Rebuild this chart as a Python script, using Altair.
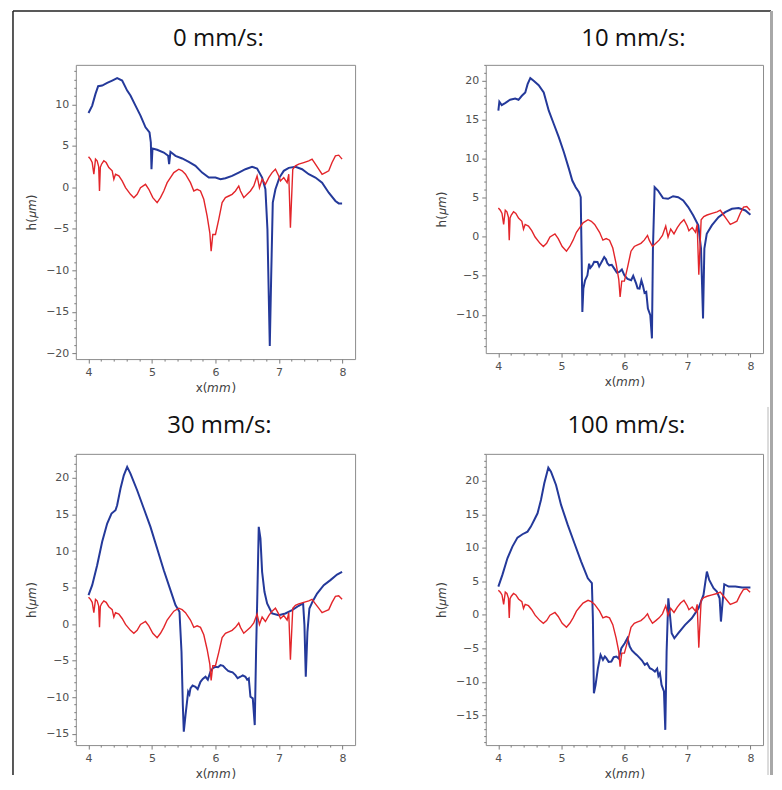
import altair as alt
import pandas as pd

# ---------------- data ----------------
TITLES = ["0 mm/s:", "10 mm/s:", "30 mm/s:", "100 mm/s:"]

X_RED = [4.000, 4.031, 4.058, 4.084, 4.110, 4.136, 4.160, 4.173, 4.186, 4.205,
         4.241, 4.278, 4.320, 4.373, 4.399, 4.425, 4.478, 4.530, 4.583, 4.661,
         4.714, 4.766, 4.819, 4.898, 4.950, 5.013, 5.081, 5.134, 5.186, 5.239,
         5.291, 5.344, 5.423, 5.475, 5.528, 5.606, 5.659, 5.711, 5.764, 5.816,
         5.869, 5.911, 5.932, 5.958, 6.000, 6.052, 6.105, 6.157, 6.210, 6.262,
         6.315, 6.367, 6.394, 6.446, 6.499, 6.551, 6.604, 6.656, 6.693, 6.735,
         6.787, 6.840, 6.892, 6.945, 6.997, 7.024, 7.076, 7.129, 7.155, 7.181,
         7.218, 7.260, 7.312, 7.391, 7.470, 7.522, 7.575, 7.627, 7.680, 7.732,
         7.785, 7.837, 7.890, 7.942, 7.995]
H_RED = [3.67, 3.39, 2.98, 1.57, 3.39, 3.19, 2.50, -0.44, 2.40, 2.78,
         3.19, 2.98, 2.38, 1.98, 0.97, 1.57, 1.37, 0.77, -0.04, -0.85,
         -1.25, -0.85, -0.04, 0.36, -0.24, -1.25, -1.85, -1.25, -0.44, 0.56,
         1.17, 1.77, 2.18, 1.98, 1.57, 0.56, -0.44, -0.24, -0.44, -1.45,
         -3.47, -5.48, -7.70, -5.69, -5.69, -3.87, -1.85, -1.25, -1.05, -0.85,
         -0.44, 0.16, -0.44, -1.25, -0.85, -0.44, 0.16, 1.37, -0.04, 0.97,
         0.36, 1.17, 1.77, 2.18, 1.37, 0.77, 1.17, 0.56, 1.57, -4.88,
         2.18, 2.58, 2.78, 2.98, 3.19, 3.39, 2.78, 2.18, 1.57, 1.77,
         1.98, 2.98, 3.79, 3.87, 3.39]

X_BLUE_0 = [4.000, 4.058, 4.110, 4.152, 4.215, 4.294, 4.373, 4.451, 4.530, 4.609,
            4.661, 4.740, 4.819, 4.898, 4.961, 4.982, 4.992, 5.008, 5.081, 5.186,
            5.255, 5.270, 5.291, 5.370, 5.475, 5.580, 5.685, 5.790, 5.895, 6.000,
            6.079, 6.157, 6.262, 6.367, 6.472, 6.577, 6.656, 6.735, 6.787, 6.819,
            6.840, 6.856, 6.877, 6.903, 6.945, 7.008, 7.076, 7.155, 7.260, 7.365,
            7.470, 7.575, 7.680, 7.785, 7.890, 7.942, 7.995]
H_BLUE_0 = [8.95, 9.84, 11.25, 12.18, 12.26, 12.58, 12.86, 13.15, 12.86, 11.65,
            11.05, 9.84, 8.63, 7.22, 6.61, 5.40, 2.18, 4.68, 4.52, 4.19,
            3.79, 2.78, 4.27, 3.79, 3.47, 3.06, 2.58, 1.77, 1.17, 1.17,
            0.97, 1.09, 1.37, 1.77, 2.18, 2.46, 2.26, 1.17, -0.24, -5.08,
            -13.15, -19.11, -11.13, -1.85, -0.24, 1.17, 1.98, 2.34, 2.46, 2.18,
            1.57, 1.17, 0.56, -0.65, -1.65, -1.94, -1.94]

X_BLUE_10 = [4.000, 4.016, 4.053, 4.107, 4.187, 4.267, 4.320, 4.373, 4.427, 4.464,
             4.507, 4.560, 4.640, 4.720, 4.800, 4.880, 4.960, 5.040, 5.120, 5.173,
             5.227, 5.280, 5.307, 5.323, 5.333, 5.349, 5.376, 5.413, 5.440, 5.460,
             5.493, 5.520, 5.573, 5.600, 5.653, 5.680, 5.707, 5.730, 5.760, 5.800,
             5.840, 5.880, 5.920, 5.960, 6.000, 6.050, 6.107, 6.140, 6.187, 6.210,
             6.240, 6.270, 6.293, 6.320, 6.347, 6.373, 6.411, 6.437, 6.453, 6.480,
             6.533, 6.613, 6.693, 6.773, 6.853, 6.933, 7.013, 7.093, 7.173, 7.216,
             7.248, 7.269, 7.307, 7.387, 7.493, 7.600, 7.707, 7.813, 7.920, 8.000]
H_BLUE_10 = [16.13, 17.28, 16.85, 17.11, 17.53, 17.70, 17.53, 18.04, 18.47, 19.53,
             20.30, 19.96, 19.40, 18.47, 16.13, 14.43, 12.72, 10.81, 8.68, 7.19,
             6.34, 5.70, 5.06, -3.23, -9.62, -6.64, -5.57, -4.94, -3.45, -4.00,
             -3.66, -3.20, -3.23, -3.80, -3.02, -2.60, -2.89, -3.40, -3.66, -3.60,
             -4.09, -4.60, -4.51, -4.20, -4.94, -5.40, -5.57, -5.00, -6.00, -6.60,
             -6.64, -5.60, -6.21, -7.20, -7.06, -9.19, -10.04, -13.02, -1.53, 6.34,
             5.91, 4.94, 4.85, 5.19, 5.06, 4.64, 3.79, 2.72, 1.45, -1.53,
             -10.47, -1.53, 0.38, 1.45, 2.51, 3.15, 3.57, 3.66, 3.36, 2.81]

X_BLUE_30 = [4.000, 4.058, 4.136, 4.215, 4.294, 4.362, 4.425, 4.451, 4.504, 4.556,
             4.609, 4.661, 4.766, 4.871, 4.976, 5.081, 5.186, 5.291, 5.370, 5.433,
             5.465, 5.486, 5.501, 5.528, 5.570, 5.590, 5.606, 5.640, 5.685, 5.720,
             5.764, 5.800, 5.843, 5.880, 5.921, 5.960, 6.000, 6.040, 6.079, 6.120,
             6.157, 6.200, 6.236, 6.270, 6.315, 6.350, 6.394, 6.430, 6.472, 6.500,
             6.525, 6.551, 6.588, 6.619, 6.640, 6.661, 6.682, 6.709, 6.735, 6.772,
             6.814, 6.892, 6.997, 7.102, 7.207, 7.312, 7.381, 7.402, 7.423, 7.449,
             7.480, 7.533, 7.601, 7.706, 7.811, 7.916, 7.995]
H_BLUE_30 = [3.97, 5.33, 8.07, 11.26, 13.76, 15.13, 15.59, 16.27, 18.55, 20.37,
             21.51, 20.60, 18.32, 15.82, 13.31, 10.35, 7.38, 4.65, 2.60, 1.69,
             -3.78, -11.08, -14.72, -12.44, -9.25, -9.60, -8.80, -8.40, -8.57, -8.90,
             -7.89, -7.50, -7.20, -7.60, -6.52, -6.00, -5.83, -5.90, -5.61, -5.70,
             -6.06, -6.40, -6.52, -6.60, -6.97, -7.40, -7.20, -7.00, -7.20, -7.60,
             -7.43, -9.94, -10.16, -13.81, -3.78, 4.42, 13.31, 11.71, 7.16, 4.42,
             2.83, 1.46, 1.23, 1.46, 1.91, 2.51, 2.83, -0.14, -7.20, -1.05,
             2.14, 3.14, 4.19, 5.33, 6.02, 6.79, 7.16]

X_BLUE_100 = [4.000, 4.064, 4.144, 4.223, 4.303, 4.383, 4.463, 4.516, 4.569, 4.622,
              4.676, 4.729, 4.793, 4.835, 4.915, 4.995, 5.101, 5.207, 5.314, 5.420,
              5.484, 5.500, 5.516, 5.543, 5.580, 5.622, 5.660, 5.690, 5.713, 5.750,
              5.793, 5.830, 5.872, 5.910, 5.952, 6.005, 6.048, 6.085, 6.120, 6.165,
              6.200, 6.245, 6.280, 6.324, 6.360, 6.404, 6.440, 6.484, 6.520, 6.540,
              6.564, 6.590, 6.628, 6.649, 6.670, 6.697, 6.723, 6.750, 6.793, 6.856,
              6.963, 7.069, 7.176, 7.255, 7.309, 7.346, 7.415, 7.468, 7.511, 7.532,
              7.559, 7.585, 7.654, 7.761, 7.867, 8.000]
H_BLUE_100 = [4.22, 5.96, 8.44, 10.18, 11.52, 12.02, 12.41, 13.16, 14.15, 15.14,
              17.13, 19.61, 21.95, 21.35, 19.36, 16.39, 13.41, 10.68, 7.94, 5.46,
              4.72, -0.50, -11.67, -10.43, -7.94, -5.96, -6.70, -6.20, -6.45, -7.00,
              -6.95, -6.30, -6.21, -6.50, -4.97, -4.22, -3.48, -4.72, -5.30, -5.71,
              -6.00, -6.45, -6.80, -7.45, -7.20, -7.94, -8.10, -8.44, -8.00, -9.10,
              -8.69, -10.43, -11.42, -17.13, -5.46, 2.48, 0.00, -2.73, -3.48, -2.73,
              -1.49, -0.50, 0.99, 2.98, 6.45, 5.21, 3.97, 3.48, 2.48, -0.99,
              1.99, 4.57, 4.22, 4.22, 4.07, 4.07]

BLUES = [(X_BLUE_0, H_BLUE_0), (X_BLUE_10, H_BLUE_10),
         (X_BLUE_30, H_BLUE_30), (X_BLUE_100, H_BLUE_100)]
Y_DOMAINS = [(-20.7, 14.75), (-14.9, 22.0), (-16.55, 23.3), (-19.4, 24.0)]
X_DOMAIN = (3.8, 8.2)
X_TICKS = [round(4 + 0.2 * i, 1) for i in range(21)]

# ---------------- layout ----------------
SIZES = [(280, 295), (278, 289), (280, 292), (278, 292)]
TITLE_DX = [3, 9, 4, 2]
TITLE_OFFSET = [19, 19, 21, 21]

RED = "#e3252a"
BLUE = "#24399a"
FONT = "DejaVu Sans"

red_df = pd.DataFrame({"x": X_RED, "h": H_RED})
one = pd.DataFrame({"k": [0]})
assert len(X_RED) == len(H_RED)


def panel(i):
    xs, hs = BLUES[i]
    assert len(xs) == len(hs)
    blue_df = pd.DataFrame({"x": xs, "h": hs})
    lo, hi = Y_DOMAINS[i]
    y_ticks = [v for v in range(-25, 26) if lo <= v <= hi]
    xenc = alt.X(
        "x:Q",
        scale=alt.Scale(domain=list(X_DOMAIN), nice=False, zero=False),
        axis=alt.Axis(
            title="x(𝘮𝘮)",
            values=X_TICKS,
            format=".0f",
            labelExpr="abs(datum.value - round(datum.value)) < 0.001 ? datum.label : ''",
            tickSize={"condition": {"test": "abs(datum.value - round(datum.value)) < 0.001", "value": 4}, "value": 2},
            labelOverlap=False,
            labelFlush=False,
            labelPadding=3,
            titlePadding=5,
        ),
    )
    yenc = alt.Y(
        "h:Q",
        scale=alt.Scale(domain=[lo, hi], nice=False, zero=False),
        axis=alt.Axis(
            title="h(𝜇𝘮)",
            values=y_ticks,
            format="d",
            labelExpr="abs(datum.value - round(datum.value / 5) * 5) < 0.001 ? datum.label : ''",
            tickSize={"condition": {"test": "abs(datum.value - round(datum.value / 5) * 5) < 0.001", "value": 4}, "value": 2},
            labelOverlap=False,
            labelPadding=3,
            titlePadding=7,
        ),
    )
    w, h = SIZES[i]
    blue = alt.Chart(blue_df).mark_line(color=BLUE, strokeWidth=2).encode(
        x=xenc, y=yenc, order="x:Q")
    red = alt.Chart(red_df).mark_line(color=RED, strokeWidth=1.4).encode(
        x=xenc, y=yenc, order="x:Q")
    base = alt.Chart(one)
    title = base.mark_text(
        text=TITLES[i], font="Open Sans", fontSize=24, color="#111111",
        align="center", baseline="alphabetic",
    ).encode(x=alt.value(w / 2 + TITLE_DX[i]), y=alt.value(-TITLE_OFFSET[i]))
    layers = [blue, red, title]
    if i == 0:
        layers += [
            base.mark_rule(color="#222222", strokeWidth=1.5).encode(
                x=alt.value(-63), y=alt.value(-54), y2=alt.value(712)),
            base.mark_rule(color="#222222", strokeWidth=1.5).encode(
                x=alt.value(-63), x2=alt.value(697), y=alt.value(-54)),
            base.mark_rect(color="#a8a8a8").encode(
                x=alt.value(696), x2=alt.value(699), y=alt.value(-54), y2=alt.value(712)),
            base.mark_rule(color="#b8b8b8", strokeWidth=1).encode(
                x=alt.value(694), y=alt.value(343), y2=alt.value(712)),
        ]
    return alt.layer(*layers).properties(width=w, height=h)


chart = alt.concat(
    panel(0), panel(1), panel(2), panel(3),
    columns=2, spacing={"row": 95, "column": 131}, bounds="flush",
).properties(
    padding={"left": 3, "top": 0, "right": 0, "bottom": 0},
    background="white",
).configure_view(
    stroke="#8c8c8c", strokeWidth=1
).configure_axis(
    domain=False, grid=False,
    tickColor="#7a7a7a", tickWidth=1,
    labelColor="#505050", labelFont=FONT, labelFontSize=11,
    titleColor="#404040", titleFont=FONT, titleFontSize=12, titleFontWeight="normal",
)

chart.save("out.html", embed_options={"renderer": "svg", "actions": False})
